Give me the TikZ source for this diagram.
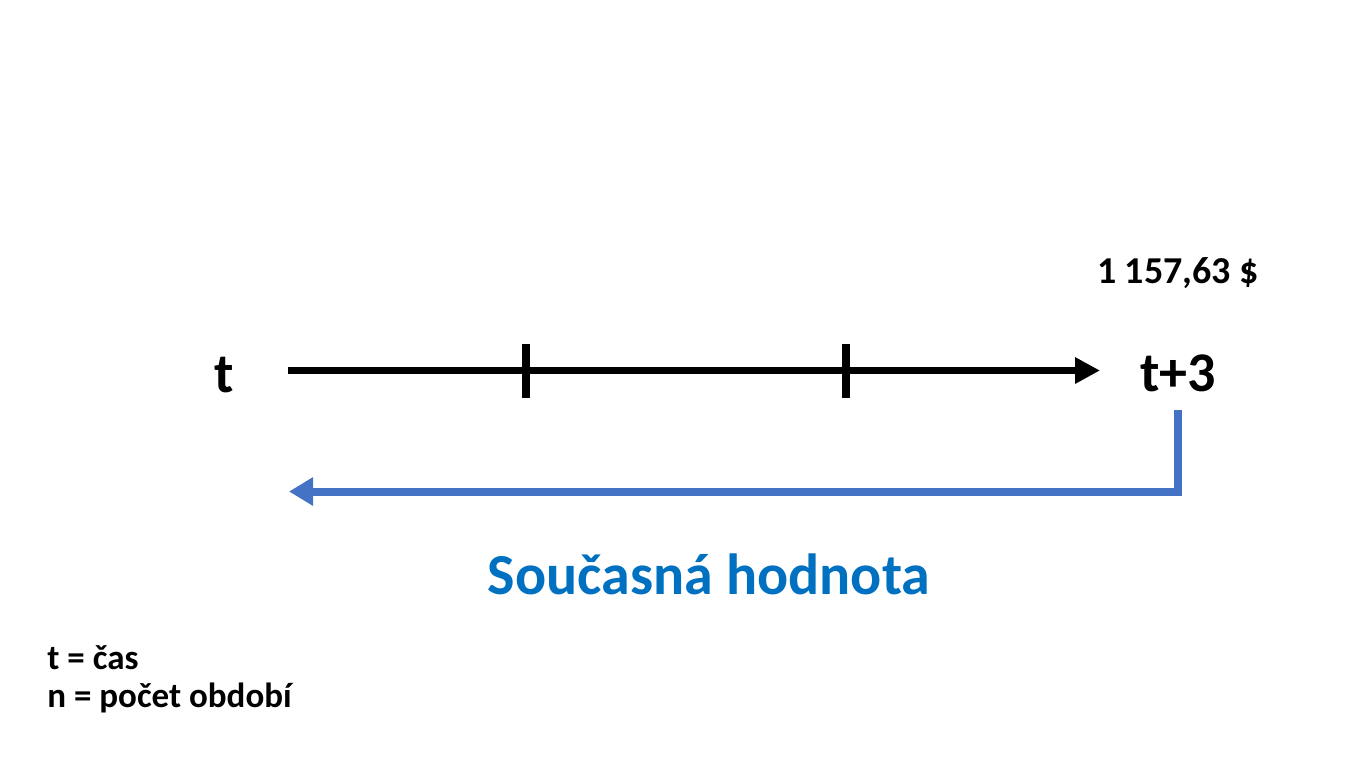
\documentclass[tikz,border=0pt]{standalone}
\usepackage{fontspec}
\setmainfont{Carlito}
\usetikzlibrary{arrows.meta, positioning}
\definecolor{pvblue}{HTML}{4472C4}
\definecolor{titleblue}{HTML}{0070C0}

\begin{document}
\begin{tikzpicture}[x=0.5pt, y=-0.5pt,
			every node/.style={inner sep=0pt, anchor=base},
			axis/.style={line width=3.5pt, -{Triangle[length=12.5pt, width=12.5pt]}},
			tickmark/.style={line width=3.75pt},
			pvpath/.style={pvblue, line width=4pt, -{Triangle[length=12pt, width=13.5pt]}},
			biglabel/.style={font=\bfseries\fontsize{28}{32}\selectfont},
			smalllabel/.style={font=\bfseries\fontsize{17.5}{21}\selectfont}]
			
			\useasboundingbox (0,0) rectangle (1365,768);
			
			% time line
			\node[biglabel] (tstart) at (224,392) {t};
			\node[biglabel] (tend) at (1178,391) {t+3};
			\node[font=\bfseries\fontsize{19}{23}\selectfont] (fv) at (1178,283) {1 157,63 \$};
			\coordinate (axstart) at (288,370.5);
			\coordinate (axend) at (1100,370.5);
			\draw[axis] (axstart) -- (axend);
			\foreach \x in {526, 846}
				\draw[tickmark] (\x,344) -- (\x,398);
			
			% discounting back
			\coordinate (pvtop) at (1178,410);
			\coordinate (pvcorner) at (1178,491.5);
			\coordinate (pvend) at (289,491.5);
			\draw[pvpath] (pvtop) -- (pvcorner) -- (pvend);
			\node[titleblue, font=\bfseries\fontsize{29}{34}\selectfont] (pv) at (709,594) {Současná hodnota};
			
			% legend
			\node[smalllabel, anchor=base west] (leg1) at (47,669) {t = čas};
			\node[smalllabel, anchor=base west] (leg2) at (47,707) {n = počet období};
		\end{tikzpicture}
\end{document}
